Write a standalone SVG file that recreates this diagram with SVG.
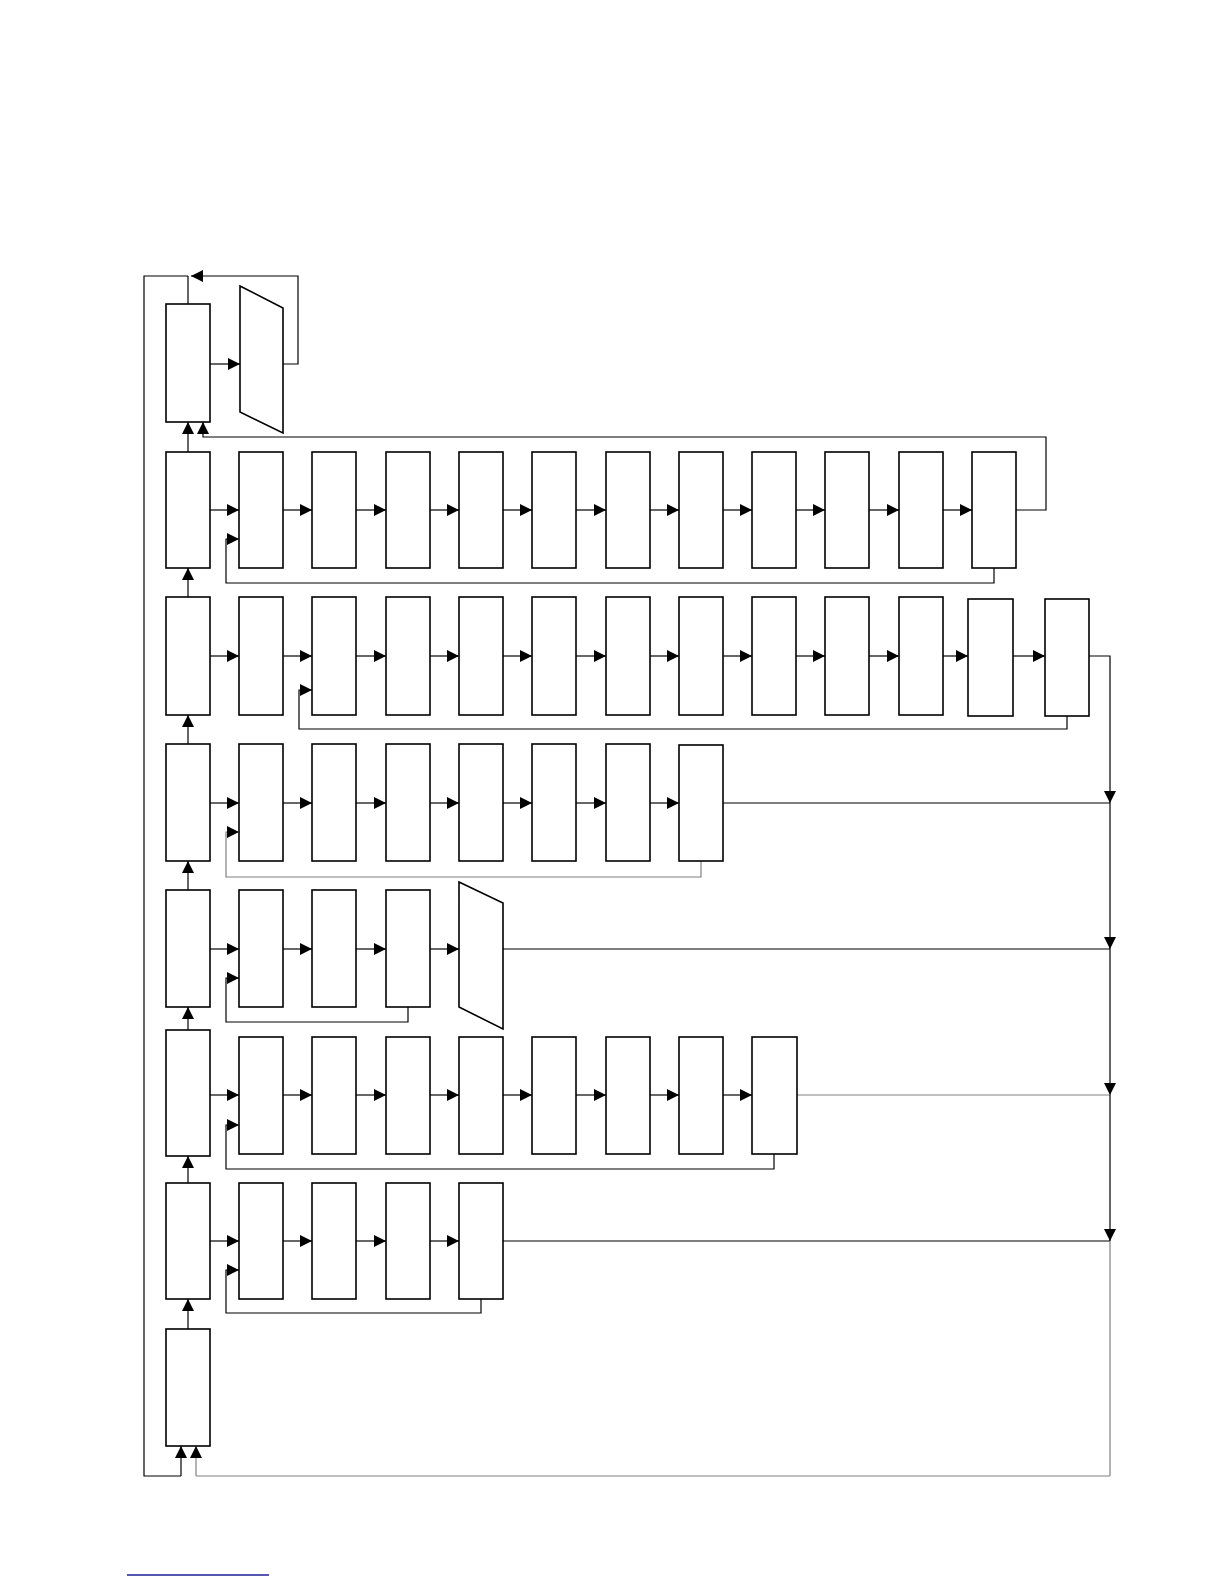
<svg xmlns="http://www.w3.org/2000/svg" width="1224" height="1584" viewBox="0 0 1224 1584">
<defs>
<marker id="ah" markerUnits="userSpaceOnUse" markerWidth="12" markerHeight="12" viewBox="0 0 10 10" refX="10" refY="5" orient="auto">
<path d="M0,0 L10,5 L0,10 z" fill="#000"/>
</marker>
</defs>
<style>
.b{fill:#fff;stroke:#000;stroke-width:1.6}
.c{fill:none;stroke:#000;stroke-width:1.2}
.g{fill:none;stroke:#808080;stroke-width:1.2}
.a{marker-end:url(#ah)}
</style>
<rect width="1224" height="1584" fill="#fff"/>
<g id="connectors">
<path class="c" d="M188,304 V276"/>
<path class="c a" d="M188,452 V422"/>
<path class="c a" d="M188,597 V568"/>
<path class="c a" d="M188,744 V715"/>
<path class="c a" d="M188,890 V861"/>
<path class="c a" d="M188,1030 V1007"/>
<path class="c a" d="M188,1183 V1156"/>
<path class="c a" d="M188,1329 V1299"/>
<path class="c" d="M188,276 H144 V1476 H181"/>
<path class="c a" d="M181,1476 V1446"/>
<path class="g" d="M1110,1476 H196"/>
<path class="g a" d="M196,1476 V1446"/>
<path class="c a" d="M210,364 H240"/>
<path class="c a" d="M283,364 H298 V276 H191"/>
<path class="c a" d="M210,510 H239"/>
<path class="c a" d="M283,510 H312"/>
<path class="c a" d="M356,510 H386"/>
<path class="c a" d="M430,510 H459"/>
<path class="c a" d="M503,510 H532"/>
<path class="c a" d="M576,510 H606"/>
<path class="c a" d="M650,510 H679"/>
<path class="c a" d="M723,510 H752"/>
<path class="c a" d="M796,510 H825"/>
<path class="c a" d="M869,510 H899"/>
<path class="c a" d="M943,510 H972"/>
<path class="c a" d="M1016,510 H1046 V437 H203 V422"/>
<path class="c a" d="M994,568 V583 H226 V539 H239"/>
<path class="c a" d="M210,656 H239"/>
<path class="c a" d="M283,656 H312"/>
<path class="c a" d="M356,656 H386"/>
<path class="c a" d="M430,656 H459"/>
<path class="c a" d="M503,656 H532"/>
<path class="c a" d="M576,656 H606"/>
<path class="c a" d="M650,656 H679"/>
<path class="c a" d="M723,656 H752"/>
<path class="c a" d="M796,656 H825"/>
<path class="c a" d="M869,656 H899"/>
<path class="c a" d="M941,656 H968"/>
<path class="c a" d="M1013,656 H1045"/>
<path class="c a" d="M1067,716 V729 H299 V690 H312"/>
<path class="c a" d="M1089,656 H1110 V803"/>
<path class="c a" d="M210,803 H239"/>
<path class="c a" d="M283,803 H312"/>
<path class="c a" d="M356,803 H386"/>
<path class="c a" d="M430,803 H459"/>
<path class="c a" d="M503,803 H532"/>
<path class="c a" d="M576,803 H606"/>
<path class="c a" d="M650,803 H679"/>
<path class="c" d="M723,803 H1110"/>
<path class="g a" d="M701,861 V877 H226 V832 H239"/>
<path class="c a" d="M1110,803 V949"/>
<path class="c a" d="M210,949 H239"/>
<path class="c a" d="M283,949 H312"/>
<path class="c a" d="M356,949 H386"/>
<path class="c a" d="M430,949 H459"/>
<path class="c" d="M503,949 H1110"/>
<path class="c a" d="M408,1007 V1022 H226 V978 H239"/>
<path class="c a" d="M1110,949 V1095"/>
<path class="c a" d="M210,1095 H239"/>
<path class="c a" d="M283,1095 H312"/>
<path class="c a" d="M356,1095 H386"/>
<path class="c a" d="M430,1095 H459"/>
<path class="c a" d="M503,1095 H532"/>
<path class="c a" d="M576,1095 H606"/>
<path class="c a" d="M650,1095 H679"/>
<path class="c a" d="M723,1095 H752"/>
<path class="g" d="M797,1095 H1110"/>
<path class="c a" d="M774,1154 V1169 H226 V1125 H239"/>
<path class="c a" d="M1110,1095 V1241"/>
<path class="c a" d="M210,1241 H239"/>
<path class="c a" d="M283,1241 H312"/>
<path class="c a" d="M356,1241 H386"/>
<path class="c a" d="M430,1241 H459"/>
<path class="c" d="M503,1241 H1110"/>
<path class="c a" d="M481,1299 V1313 H226 V1270 H239"/>
<path class="g" d="M1110,1241 V1476"/>
</g>
<g id="left-column">
<rect id="L0" class="b" x="166" y="304" width="44" height="118"/>
<rect id="L1" class="b" x="166" y="452" width="44" height="116"/>
<rect id="L2" class="b" x="166" y="597" width="44" height="118"/>
<rect id="L3" class="b" x="166" y="744" width="44" height="117"/>
<rect id="L4" class="b" x="166" y="890" width="44" height="117"/>
<rect id="L5" class="b" x="166" y="1030" width="44" height="126"/>
<rect id="L6" class="b" x="166" y="1183" width="44" height="116"/>
<rect id="L7" class="b" x="166" y="1329" width="44" height="117"/>
</g>
<g id="row0">
<polygon id="T0" class="b" points="240,286 283,308 283,433 240,412"/>
</g>
<g id="row1">
<rect class="b" x="239" y="452" width="44" height="116"/>
<rect class="b" x="312" y="452" width="44" height="116"/>
<rect class="b" x="386" y="452" width="44" height="116"/>
<rect class="b" x="459" y="452" width="44" height="116"/>
<rect class="b" x="532" y="452" width="44" height="116"/>
<rect class="b" x="606" y="452" width="44" height="116"/>
<rect class="b" x="679" y="452" width="44" height="116"/>
<rect class="b" x="752" y="452" width="44" height="116"/>
<rect class="b" x="825" y="452" width="44" height="116"/>
<rect class="b" x="899" y="452" width="44" height="116"/>
<rect class="b" x="972" y="452" width="44" height="116"/>
</g>
<g id="row2">
<rect class="b" x="239" y="597" width="44" height="118"/>
<rect class="b" x="312" y="597" width="44" height="118"/>
<rect class="b" x="386" y="597" width="44" height="118"/>
<rect class="b" x="459" y="597" width="44" height="118"/>
<rect class="b" x="532" y="597" width="44" height="118"/>
<rect class="b" x="606" y="597" width="44" height="118"/>
<rect class="b" x="679" y="597" width="44" height="118"/>
<rect class="b" x="752" y="597" width="44" height="118"/>
<rect class="b" x="825" y="597" width="44" height="118"/>
<rect class="b" x="899" y="597" width="44" height="118"/>
<rect class="b" x="968" y="599" width="45" height="117"/>
<rect class="b" x="1045" y="599" width="44" height="117"/>
</g>
<g id="row3">
<rect class="b" x="239" y="744" width="44" height="117"/>
<rect class="b" x="312" y="744" width="44" height="117"/>
<rect class="b" x="386" y="744" width="44" height="117"/>
<rect class="b" x="459" y="744" width="44" height="117"/>
<rect class="b" x="532" y="744" width="44" height="117"/>
<rect class="b" x="606" y="744" width="44" height="117"/>
<rect class="b" x="679" y="745" width="44" height="116"/>
</g>
<g id="row4">
<rect class="b" x="239" y="890" width="44" height="117"/>
<rect class="b" x="312" y="890" width="44" height="117"/>
<rect class="b" x="386" y="890" width="44" height="117"/>
<polygon id="T4" class="b" points="459,882 503,903 503,1029 459,1007"/>
</g>
<g id="row5">
<rect class="b" x="239" y="1037" width="44" height="117"/>
<rect class="b" x="312" y="1037" width="44" height="117"/>
<rect class="b" x="386" y="1037" width="44" height="117"/>
<rect class="b" x="459" y="1037" width="44" height="117"/>
<rect class="b" x="532" y="1037" width="44" height="117"/>
<rect class="b" x="606" y="1037" width="44" height="117"/>
<rect class="b" x="679" y="1037" width="44" height="117"/>
<rect class="b" x="752" y="1037" width="45" height="117"/>
</g>
<g id="row6">
<rect class="b" x="239" y="1183" width="44" height="116"/>
<rect class="b" x="312" y="1183" width="44" height="116"/>
<rect class="b" x="386" y="1183" width="44" height="116"/>
<rect class="b" x="459" y="1183" width="44" height="116"/>
</g>
<line x1="127" y1="1575" x2="269" y2="1575" stroke="#1f1f99" stroke-width="1.5"/>
</svg>
